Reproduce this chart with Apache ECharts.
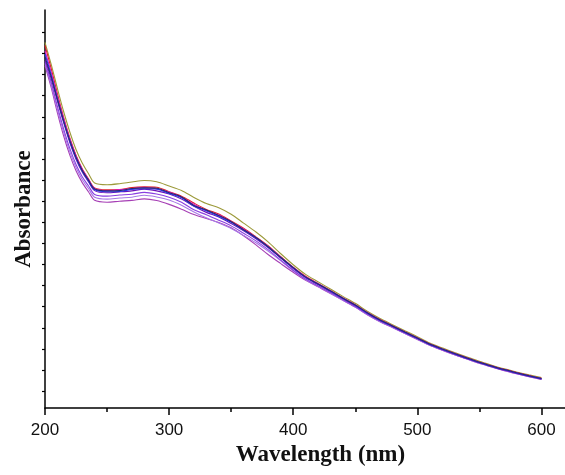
<!DOCTYPE html>
<html>
<head>
<meta charset="utf-8">
<script src="https://cdn.jsdelivr.net/npm/echarts@6/dist/echarts.min.js"></script>
<style>
html,body{margin:0;padding:0;background:#fff;}
#c{width:565px;height:475px;}
</style>
</head>
<body>
<div id="c"></div>
<script>
const wavelengths = [200,205,210,215,220,225,230,235,240,250,260,270,280,290,300,310,320,330,340,350,360,370,380,390,400,410,420,430,440,450,460,470,480,490,500,510,520,530,540,550,560,570,580,590,600];

const olive   = [1.733,1.628,1.514,1.405,1.308,1.225,1.161,1.111,1.066,1.058,1.063,1.071,1.078,1.072,1.052,1.031,0.998,0.969,0.949,0.918,0.876,0.834,0.786,0.731,0.679,0.633,0.598,0.564,0.529,0.496,0.457,0.424,0.395,0.366,0.338,0.308,0.285,0.263,0.242,0.221,0.203,0.186,0.171,0.157,0.144];
const red     = [1.718,1.608,1.489,1.377,1.280,1.198,1.134,1.086,1.043,1.034,1.035,1.045,1.048,1.046,1.025,1.004,0.971,0.941,0.919,0.886,0.852,0.811,0.768,0.717,0.667,0.624,0.590,0.557,0.522,0.490,0.451,0.419,0.390,0.361,0.333,0.304,0.281,0.259,0.238,0.218,0.200,0.183,0.168,0.154,0.141];
const magenta = [1.693,1.590,1.477,1.371,1.275,1.194,1.131,1.084,1.040,1.030,1.035,1.039,1.046,1.038,1.024,0.999,0.966,0.935,0.915,0.883,0.848,0.808,0.765,0.714,0.666,0.621,0.589,0.555,0.521,0.488,0.451,0.417,0.389,0.360,0.332,0.303,0.280,0.258,0.237,0.217,0.199,0.182,0.167,0.153,0.140];
const blue    = [1.678,1.578,1.465,1.359,1.264,1.184,1.123,1.076,1.034,1.025,1.026,1.036,1.039,1.037,1.017,0.996,0.957,0.935,0.908,0.880,0.843,0.806,0.762,0.712,0.664,0.619,0.587,0.554,0.520,0.487,0.449,0.416,0.388,0.359,0.331,0.302,0.279,0.257,0.236,0.216,0.198,0.181,0.166,0.152,0.139];
const navy    = [1.663,1.570,1.463,1.361,1.267,1.188,1.126,1.080,1.038,1.029,1.030,1.040,1.043,1.041,1.020,1.000,0.960,0.938,0.912,0.883,0.845,0.808,0.763,0.713,0.665,0.620,0.588,0.555,0.520,0.488,0.450,0.417,0.389,0.360,0.332,0.303,0.280,0.258,0.237,0.217,0.199,0.182,0.167,0.153,0.140];
const purple  = [1.653,1.560,1.454,1.352,1.258,1.179,1.118,1.072,1.030,1.020,1.024,1.029,1.037,1.029,1.014,0.990,0.956,0.927,0.905,0.874,0.840,0.802,0.759,0.710,0.661,0.618,0.585,0.552,0.519,0.485,0.448,0.415,0.387,0.358,0.330,0.301,0.278,0.256,0.235,0.215,0.197,0.180,0.165,0.151,0.138];
const violet  = [1.643,1.543,1.429,1.323,1.230,1.154,1.096,1.053,1.012,1.004,1.009,1.013,1.022,1.014,0.999,0.975,0.939,0.916,0.890,0.863,0.828,0.792,0.749,0.701,0.653,0.611,0.579,0.547,0.514,0.481,0.444,0.412,0.384,0.355,0.328,0.299,0.276,0.254,0.233,0.214,0.196,0.179,0.164,0.150,0.137];
const lavender= [1.633,1.530,1.414,1.307,1.214,1.140,1.083,1.040,0.999,0.990,0.995,0.999,1.008,1.000,0.986,0.961,0.929,0.901,0.877,0.851,0.818,0.783,0.742,0.697,0.650,0.608,0.576,0.544,0.511,0.478,0.442,0.409,0.382,0.353,0.326,0.297,0.275,0.253,0.232,0.212,0.195,0.178,0.163,0.149,0.136];
const orchid  = [1.623,1.518,1.399,1.290,1.198,1.124,1.068,1.025,0.984,0.975,0.980,0.984,0.991,0.983,0.965,0.942,0.917,0.898,0.879,0.854,0.816,0.773,0.726,0.684,0.643,0.605,0.574,0.543,0.510,0.478,0.441,0.409,0.381,0.353,0.325,0.297,0.274,0.252,0.232,0.212,0.194,0.177,0.162,0.148,0.135];

const xMajorTicks = [200,300,400,500,600];
const xMinorTicks = [250,350,450,550];
const yTicks = [0.08,0.18,0.28,0.38,0.48,0.58,0.68,0.78,0.88,0.98,1.08,1.18,1.28,1.38,1.48,1.58,1.68,1.78];

const seriesDefs = [
  {name:'S9', data: orchid,   color:'#a63fb5'},
  {name:'S8', data: lavender, color:'#a878e6'},
  {name:'S7', data: violet,   color:'#8a3fe0'},
  {name:'S1', data: olive,    color:'#9c9a3a'},
  {name:'S2', data: red,      color:'#e0202a'},
  {name:'S3', data: magenta,  color:'#d81bc8'},
  {name:'S6', data: purple,   color:'#6a12b8'},
  {name:'S4', data: blue,     color:'#2a3cf0'},
  {name:'S5', data: navy,     color:'#262a70'}
];

const chart = echarts.init(document.getElementById('c'), null, {renderer:'canvas'});
const axisFont = 'Liberation Sans, Arial, sans-serif';
const titleFont = 'Liberation Serif, Times New Roman, serif';

chart.setOption({
  animation: false,
  backgroundColor: '#ffffff',
  grid: {left: 45, top: 10, right: 0, bottom: 67, containLabel: false},
  xAxis: [
    {
      type: 'value', min: 200, max: 619,
      name: 'Wavelength (nm)', nameLocation: 'middle', nameGap: 31,
      nameTextStyle: {fontFamily: titleFont, fontWeight: 'bold', fontSize: 23, color: '#111', padding: [0,0,0,31]},
      axisLine: {show: true, onZero: false, lineStyle: {color: '#000', width: 1.5}},
      axisTick: {show: true, inside: false, length: 7, lineStyle: {color: '#000', width: 1.5}, customValues: xMajorTicks},
      axisLabel: {show: true, margin: 14, fontFamily: axisFont, fontSize: 17, color: '#111', customValues: xMajorTicks},
      splitLine: {show: false}
    },
    {
      type: 'value', min: 200, max: 619, position: 'bottom',
      axisLine: {show: false, onZero: false},
      axisTick: {show: true, inside: false, length: 4, lineStyle: {color: '#000', width: 1.5}, customValues: xMinorTicks},
      axisLabel: {show: false},
      splitLine: {show: false}
    }
  ],
  yAxis: {
    type: 'value', min: 0, max: 1.886,
    name: 'Absorbance', nameLocation: 'middle', nameGap: 9, nameRotate: 90,
    nameTextStyle: {fontFamily: titleFont, fontWeight: 'bold', fontSize: 23, color: '#111'},
    axisLine: {show: true, onZero: false, lineStyle: {color: '#000', width: 1.5}},
    axisTick: {show: true, inside: false, length: 3, lineStyle: {color: '#000', width: 1.2}, customValues: yTicks},
    axisLabel: {show: false},
    splitLine: {show: false}
  },
  series: seriesDefs.map(s => ({
    name: s.name,
    type: 'line',
    xAxisIndex: 0,
    showSymbol: false,
    symbol: 'none',
    smooth: 0.3,
    lineStyle: {color: s.color, width: 1.1},
    data: wavelengths.map((w, i) => [w, s.data[i]])
  }))
});
</script>
</body>
</html>
